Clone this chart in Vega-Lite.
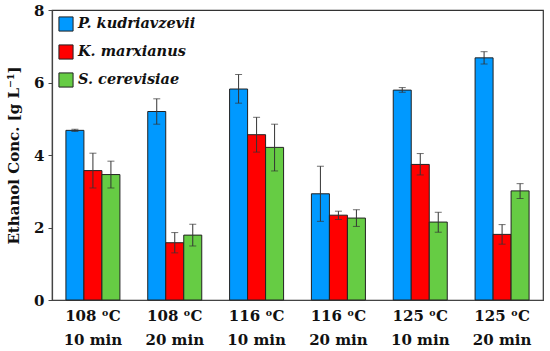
{
  "$schema": "https://vega.github.io/schema/vega-lite/v6.json",
  "autosize": "none",
  "width": 491,
  "height": 290,
  "padding": {"left": 52, "top": 10, "right": 7, "bottom": 51},
  "background": "white",
  "config": {
    "font": "DejaVu Serif",
    "view": {"stroke": "#333333", "strokeWidth": 1.2},
    "axis": {"grid": false, "domainColor": "#444444", "domainWidth": 1.2, "tickColor": "#444444", "labelColor": "#111111", "titleColor": "#111111"}
  },
  "data": {
    "values": [
      {"cond": "108 ᵒC|10 min", "strain": "P. kudriavzevii", "mean": 4.68, "lo": 4.65, "hi": 4.71},
      {"cond": "108 ᵒC|10 min", "strain": "K. marxianus", "mean": 3.57, "lo": 3.09, "hi": 4.05},
      {"cond": "108 ᵒC|10 min", "strain": "S. cerevisiae", "mean": 3.46, "lo": 3.09, "hi": 3.83},
      {"cond": "108 ᵒC|20 min", "strain": "P. kudriavzevii", "mean": 5.2, "lo": 4.85, "hi": 5.55},
      {"cond": "108 ᵒC|20 min", "strain": "K. marxianus", "mean": 1.58, "lo": 1.3, "hi": 1.86},
      {"cond": "108 ᵒC|20 min", "strain": "S. cerevisiae", "mean": 1.79, "lo": 1.49, "hi": 2.09},
      {"cond": "116 ᵒC|10 min", "strain": "P. kudriavzevii", "mean": 5.82, "lo": 5.43, "hi": 6.22},
      {"cond": "116 ᵒC|10 min", "strain": "K. marxianus", "mean": 4.56, "lo": 4.08, "hi": 5.04},
      {"cond": "116 ᵒC|10 min", "strain": "S. cerevisiae", "mean": 4.21, "lo": 3.56, "hi": 4.85},
      {"cond": "116 ᵒC|20 min", "strain": "P. kudriavzevii", "mean": 2.93, "lo": 2.17, "hi": 3.69},
      {"cond": "116 ᵒC|20 min", "strain": "K. marxianus", "mean": 2.34, "lo": 2.22, "hi": 2.45},
      {"cond": "116 ᵒC|20 min", "strain": "S. cerevisiae", "mean": 2.26, "lo": 2.03, "hi": 2.49},
      {"cond": "125 ᵒC|10 min", "strain": "P. kudriavzevii", "mean": 5.79, "lo": 5.73, "hi": 5.86},
      {"cond": "125 ᵒC|10 min", "strain": "K. marxianus", "mean": 3.74, "lo": 3.45, "hi": 4.04},
      {"cond": "125 ᵒC|10 min", "strain": "S. cerevisiae", "mean": 2.15, "lo": 1.87, "hi": 2.42},
      {"cond": "125 ᵒC|20 min", "strain": "P. kudriavzevii", "mean": 6.68, "lo": 6.51, "hi": 6.85},
      {"cond": "125 ᵒC|20 min", "strain": "K. marxianus", "mean": 1.81, "lo": 1.54, "hi": 2.08},
      {"cond": "125 ᵒC|20 min", "strain": "S. cerevisiae", "mean": 3.01, "lo": 2.8, "hi": 3.21}
    ]
  },
  "encoding": {
    "x": {
      "field": "cond", "type": "nominal", "sort": null,
      "scale": {"paddingInner": 0.34, "paddingOuter": 0.17},
      "axis": {"title": null, "labelAngle": 0, "ticks": false, "labelExpr": "split(datum.label, '|')", "labelFont": "DejaVu Serif", "labelFontSize": 15, "labelFontWeight": "bold", "labelLineHeight": 24, "labelPadding": 8}
    },
    "xOffset": {"field": "strain", "type": "nominal", "sort": ["P. kudriavzevii", "K. marxianus", "S. cerevisiae"]}
  },
  "layer": [
    {
      "mark": {"type": "bar", "stroke": "#222222", "strokeWidth": 1},
      "encoding": {
        "y": {
          "field": "mean", "type": "quantitative",
          "scale": {"domain": [0, 8], "nice": false},
          "axis": {"title": "Ethanol Conc. [g L⁻¹]", "titleFont": "DejaVu Serif", "titleFontSize": 15, "titleFontWeight": "bold", "titlePadding": 12, "values": [0,0.5,1,1.5,2,2.5,3,3.5,4,4.5,5,5.5,6,6.5,7,7.5,8], "labelExpr": "datum.value % 2 === 0 ? datum.label : ''", "labelFont": "DejaVu Serif", "labelFontSize": 15, "labelFontWeight": "bold", "tickSize": 4, "labelPadding": 4}
        },
        "color": {
          "field": "strain", "type": "nominal",
          "sort": ["P. kudriavzevii", "K. marxianus", "S. cerevisiae"],
          "scale": {"range": ["#0099FF", "#FF0000", "#66CC44"]},
          "legend": {"title": null, "orient": "top-left", "offset": 4, "symbolType": "square", "symbolSize": 200, "symbolStrokeColor": "#222222", "symbolStrokeWidth": 1, "symbolOpacity": 1, "labelFont": "DejaVu Serif", "labelFontSize": 14.5, "labelFontWeight": "bold", "labelFontStyle": "italic", "rowPadding": 8, "labelColor": "#111111", "padding": 2}
        }
      }
    },
    {
      "mark": {"type": "rule", "color": "#333333", "strokeWidth": 1},
      "encoding": {
        "y": {"field": "lo", "type": "quantitative"},
        "y2": {"field": "hi"}
      }
    },
    {
      "mark": {"type": "tick", "color": "#333333", "size": 7, "thickness": 1},
      "encoding": {"y": {"field": "lo", "type": "quantitative"}}
    },
    {
      "mark": {"type": "tick", "color": "#333333", "size": 7, "thickness": 1},
      "encoding": {"y": {"field": "hi", "type": "quantitative"}}
    }
  ]
}
